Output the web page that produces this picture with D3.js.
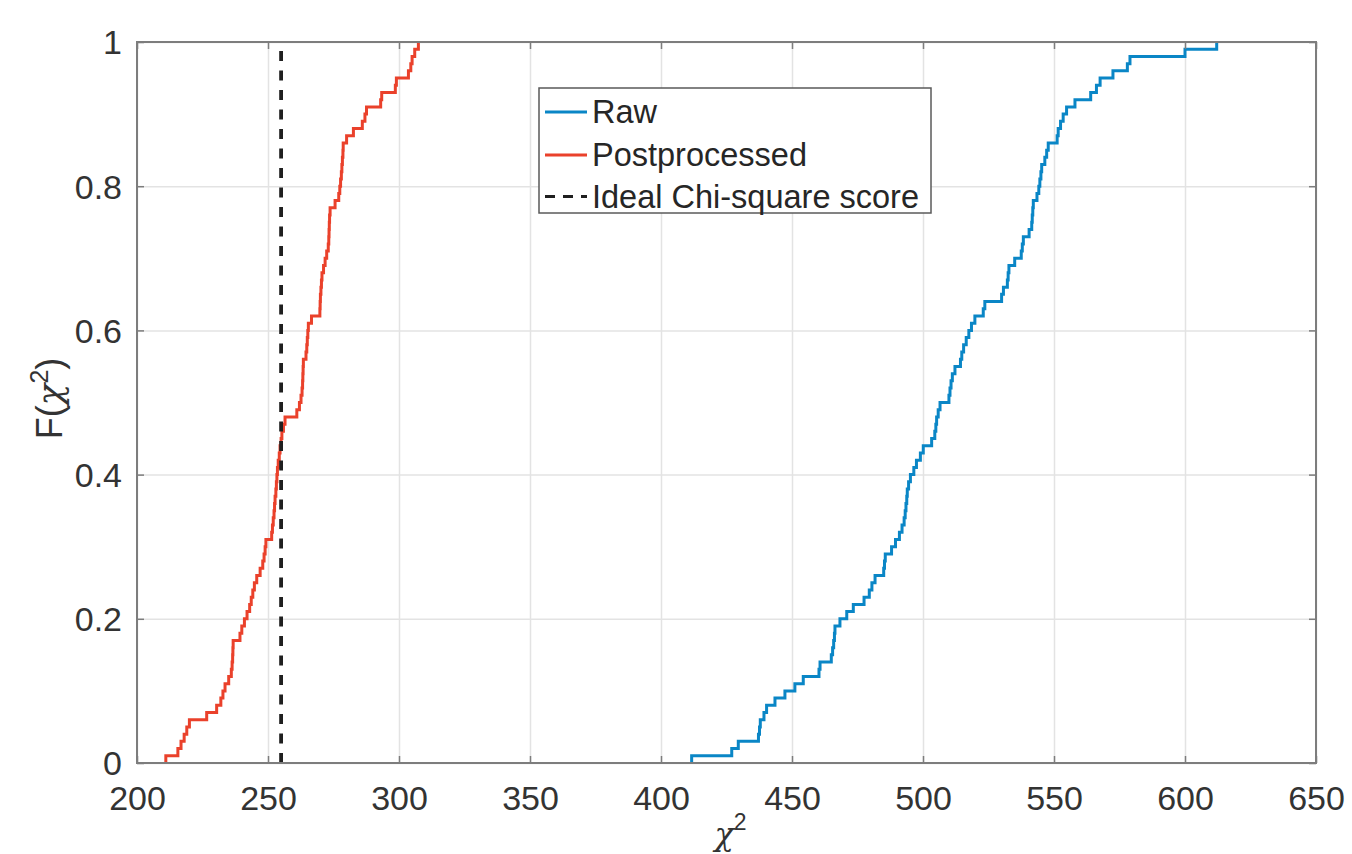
<!DOCTYPE html>
<html>
<head>
<meta charset="utf-8">
<script src="https://cdn.jsdelivr.net/npm/d3@7"></script>
<style>
  html, body { margin: 0; padding: 0; background: #fff; }
  svg { display: block; }
  text { font-family: "Liberation Sans", Arial, Helvetica, sans-serif; }
</style>
</head>
<body>
<svg id="chart" width="1352" height="854"></svg>
<script>
// ---- data ----
// empirical CDF steps: [chi-square value, F after the jump]
const rawSteps = [
  [411.7, 0.01], [427.0, 0.02], [429.5, 0.03], [437.2, 0.04], [437.6, 0.05], [437.9, 0.06],
  [439.3, 0.07], [440.3, 0.08], [443.5, 0.09], [447.3, 0.10], [451.1, 0.11], [454.3, 0.12],
  [460.3, 0.13], [460.7, 0.14], [465.0, 0.15], [465.5, 0.16], [465.9, 0.17], [466.2, 0.18],
  [466.4, 0.19], [468.3, 0.20], [470.9, 0.21], [473.4, 0.22], [477.5, 0.23], [479.5, 0.24],
  [480.5, 0.25], [481.7, 0.26], [485.0, 0.27], [485.3, 0.28], [485.6, 0.29], [488.0, 0.30],
  [489.5, 0.31], [491.0, 0.32], [492.0, 0.33], [492.8, 0.34], [493.2, 0.35], [493.5, 0.36],
  [493.8, 0.37], [494.0, 0.38], [494.5, 0.39], [495.2, 0.40], [496.5, 0.41], [497.5, 0.42],
  [499.0, 0.43], [500.1, 0.44], [503.3, 0.45], [504.5, 0.46], [504.9, 0.47], [505.2, 0.48],
  [505.8, 0.49], [506.5, 0.50], [509.9, 0.51], [510.3, 0.52], [510.7, 0.53], [511.2, 0.54],
  [512.2, 0.55], [514.3, 0.56], [514.8, 0.57], [515.5, 0.58], [516.5, 0.59], [517.5, 0.60],
  [518.5, 0.61], [519.8, 0.62], [523.0, 0.63], [523.6, 0.64], [530.0, 0.65], [530.7, 0.66],
  [532.2, 0.67], [532.5, 0.68], [532.8, 0.69], [535.0, 0.70], [537.5, 0.71], [537.9, 0.72],
  [538.3, 0.73], [540.5, 0.74], [541.5, 0.75], [541.7, 0.76], [541.9, 0.77], [542.1, 0.78],
  [543.5, 0.79], [544.2, 0.80], [544.6, 0.81], [545.0, 0.82], [545.3, 0.83], [546.5, 0.84],
  [547.2, 0.85], [547.8, 0.86], [551.2, 0.87], [551.6, 0.88], [552.5, 0.89], [553.5, 0.90],
  [554.8, 0.91], [558.0, 0.92], [564.0, 0.93], [566.2, 0.94], [567.6, 0.95], [572.5, 0.96],
  [578.0, 0.97], [579.0, 0.98], [600.0, 0.99], [612.1, 1.00]
];
const postSteps = [
  [211.0, 0.01], [215.6, 0.02], [216.8, 0.03], [218.0, 0.04], [219.0, 0.05], [220.0, 0.06],
  [226.6, 0.07], [230.4, 0.08], [232.0, 0.09], [232.8, 0.10], [233.6, 0.11], [235.0, 0.12],
  [236.0, 0.13], [236.3, 0.14], [236.5, 0.15], [236.6, 0.16], [236.7, 0.17], [239.3, 0.18],
  [240.0, 0.19], [241.0, 0.20], [242.0, 0.21], [243.0, 0.22], [243.6, 0.23], [244.2, 0.24],
  [244.8, 0.25], [245.7, 0.26], [247.0, 0.27], [248.0, 0.28], [248.5, 0.29], [248.9, 0.30],
  [249.2, 0.31], [251.4, 0.32], [251.7, 0.33], [252.0, 0.34], [252.3, 0.35], [252.5, 0.36],
  [252.7, 0.37], [253.0, 0.38], [253.2, 0.39], [253.4, 0.40], [253.6, 0.41], [253.9, 0.42],
  [254.3, 0.43], [254.6, 0.44], [255.0, 0.45], [255.3, 0.46], [255.9, 0.47], [256.5, 0.48],
  [261.0, 0.49], [262.0, 0.50], [262.6, 0.51], [263.0, 0.52], [263.2, 0.53], [263.3, 0.54],
  [263.4, 0.55], [263.5, 0.56], [264.5, 0.57], [264.8, 0.58], [265.0, 0.59], [265.2, 0.60],
  [265.4, 0.61], [266.6, 0.62], [269.8, 0.63], [269.9, 0.64], [270.0, 0.65], [270.2, 0.66],
  [270.4, 0.67], [270.6, 0.68], [271.2, 0.69], [271.8, 0.70], [272.4, 0.71], [273.0, 0.72],
  [273.2, 0.73], [273.3, 0.74], [273.4, 0.75], [273.5, 0.76], [273.7, 0.77], [275.6, 0.78],
  [277.0, 0.79], [277.4, 0.80], [277.7, 0.81], [278.0, 0.82], [278.2, 0.83], [278.4, 0.84],
  [278.6, 0.85], [278.7, 0.86], [280.0, 0.87], [282.6, 0.88], [286.0, 0.89], [287.0, 0.90],
  [287.6, 0.91], [293.0, 0.92], [293.4, 0.93], [298.6, 0.94], [299.0, 0.95], [303.6, 0.96],
  [304.5, 0.97], [305.0, 0.98], [306.0, 0.99], [307.4, 1.00]
];
const idealScore = 255;
const seriesNames = ["Raw", "Postprocessed", "Ideal Chi-square score"];
const xTicks = [200, 250, 300, 350, 400, 450, 500, 550, 600, 650];
const yTicks = [0, 0.2, 0.4, 0.6, 0.8, 1];
const yTickLabels = ["0", "0.2", "0.4", "0.6", "0.8", "1"];

// ---- layout ----
const margin = { left: 137, top: 42, right: 1352 - 1316, bottom: 854 - 763 };
const W = 1352, H = 854;
const iw = W - margin.left - margin.right;
const ih = H - margin.top - margin.bottom;

const colors = { raw: "#0a86c6", post: "#ea412b", ideal: "#1f1f1f" };
const axisColor = "#7d7d7d";
const textColor = "#333333";

const svg = d3.select("#chart");
const g = svg.append("g").attr("transform", `translate(${margin.left},${margin.top})`);

const x = d3.scaleLinear().domain([200, 650]).range([0, iw]);
const y = d3.scaleLinear().domain([0, 1]).range([ih, 0]);

// grid
g.append("g").attr("class", "grid")
  .attr("transform", `translate(0,${ih})`)
  .call(d3.axisBottom(x).tickValues(xTicks).tickSize(-ih).tickFormat(""))
  .call(s => s.select(".domain").remove())
  .call(s => s.selectAll("line").attr("stroke", "#e3e3e3").attr("stroke-width", 1.5));
g.append("g").attr("class", "grid")
  .call(d3.axisLeft(y).tickValues(yTicks).tickSize(-iw).tickFormat(""))
  .call(s => s.select(".domain").remove())
  .call(s => s.selectAll("line").attr("stroke", "#e3e3e3").attr("stroke-width", 1.5));

// data lines
const line = d3.line()
  .x(d => x(d[0]))
  .y(d => y(d[1]))
  .curve(d3.curveStepAfter);

function withStart(steps) {
  return [[steps[0][0], 0]].concat(steps);
}

g.append("path")
  .datum(withStart(rawSteps))
  .attr("fill", "none")
  .attr("stroke", colors.raw)
  .attr("stroke-width", 3)
  .attr("d", line);

g.append("path")
  .datum(withStart(postSteps))
  .attr("fill", "none")
  .attr("stroke", colors.post)
  .attr("stroke-width", 3)
  .attr("d", line);

g.append("line")
  .attr("x1", x(idealScore)).attr("x2", x(idealScore))
  .attr("y1", y(0)).attr("y2", y(1))
  .attr("stroke", colors.ideal)
  .attr("stroke-width", 3.8)
  .attr("stroke-dasharray", "10,9.5");

// axes (ticks inward)
const fsTick = 34;
const xAxis = g.append("g")
  .attr("transform", `translate(0,${ih})`)
  .call(d3.axisBottom(x).tickValues(xTicks).tickSize(-7).tickPadding(0).tickFormat(d3.format("d")));
xAxis.select(".domain").remove();
xAxis.selectAll("line").attr("stroke", axisColor).attr("stroke-width", 1.5);
xAxis.selectAll("text")
  .attr("fill", textColor).attr("font-size", fsTick)
  .attr("dy", null).attr("y", 47);

const xAxisTop = g.append("g")
  .call(d3.axisTop(x).tickValues(xTicks).tickSize(-7).tickFormat(""));
xAxisTop.select(".domain").remove();
xAxisTop.selectAll("line").attr("stroke", axisColor).attr("stroke-width", 1.5);

const yAxis = g.append("g")
  .call(d3.axisLeft(y).tickValues(yTicks).tickSize(-7).tickFormat((d, i) => yTickLabels[i]));
yAxis.select(".domain").remove();
yAxis.selectAll("line").attr("stroke", axisColor).attr("stroke-width", 1.5);
yAxis.selectAll("text")
  .attr("fill", textColor).attr("font-size", fsTick)
  .attr("x", -15).attr("dy", "0.35em");

const yAxisRight = g.append("g").attr("transform", `translate(${iw},0)`)
  .call(d3.axisRight(y).tickValues(yTicks).tickSize(-7).tickFormat(""));
yAxisRight.select(".domain").remove();
yAxisRight.selectAll("line").attr("stroke", axisColor).attr("stroke-width", 1.5);

// box
g.append("rect")
  .attr("x", 0).attr("y", 0).attr("width", iw).attr("height", ih)
  .attr("fill", "none").attr("stroke", axisColor).attr("stroke-width", 2);

// axis labels
const ylab = svg.append("text")
  .attr("transform", `translate(62,${margin.top + ih / 2 - 4}) rotate(-90)`)
  .attr("text-anchor", "middle")
  .attr("fill", textColor)
  .attr("font-size", 36);
ylab.append("tspan").text("F(");
ylab.append("tspan").attr("font-family", "DejaVu Serif, serif").attr("font-style", "italic").text("χ");
ylab.append("tspan").attr("dy", -14).attr("font-size", 25).text("2");
ylab.append("tspan").attr("dy", 14).text(")");

const xlab = svg.append("text")
  .attr("x", margin.left + iw / 2 + 4)
  .attr("y", 845)
  .attr("text-anchor", "middle")
  .attr("fill", textColor)
  .attr("font-size", 32);
xlab.append("tspan").attr("font-family", "DejaVu Serif, serif").attr("font-style", "italic").text("χ");
xlab.append("tspan").attr("dy", -15).attr("font-size", 23).text("2");

// legend
const legend = svg.append("g").attr("transform", "translate(539,88)");
legend.append("rect")
  .attr("width", 392).attr("height", 125)
  .attr("fill", "#fff").attr("stroke", "#5a5a5a").attr("stroke-width", 1.5);
const legItems = [
  { name: seriesNames[0], color: colors.raw, dash: null, y: 24 },
  { name: seriesNames[1], color: colors.post, dash: null, y: 67 },
  { name: seriesNames[2], color: colors.ideal, dash: "10,8", y: 108.5 }
];
legItems.forEach(it => {
  legend.append("line")
    .attr("x1", 6).attr("x2", 48).attr("y1", it.y).attr("y2", it.y)
    .attr("stroke", it.color).attr("stroke-width", 3)
    .attr("stroke-dasharray", it.dash);
  legend.append("text")
    .attr("x", 53).attr("y", it.y).attr("dy", "0.35em")
    .attr("fill", "#262626").attr("font-size", 32.5)
    .text(it.name);
});
</script>
</body>
</html>
